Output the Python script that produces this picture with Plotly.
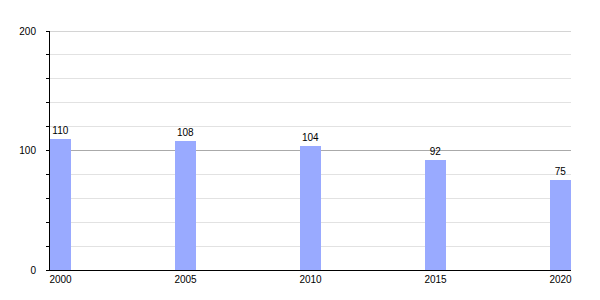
import plotly.graph_objects as go

years = ["2000", "2005", "2010", "2015", "2020"]
values = [110, 108, 104, 92, 75]
major_ticks = [0, 100, 200]
minor_ticks = [20, 40, 60, 80, 120, 140, 160, 180]

fig = go.Figure()
fig.add_trace(go.Bar(
    x=list(range(len(years))), y=values, width=0.168,
    marker=dict(color="#99aaff", line=dict(width=0)),
    text=[str(v) for v in values], textposition="outside",
    textfont=dict(size=10, color="#000", family="Liberation Sans"),
    cliponaxis=False,
))
fig.update_layout(
    width=600, height=300,
    margin=dict(l=50, r=29, t=31, b=30),
    paper_bgcolor="white", plot_bgcolor="white",
    showlegend=False,
    font=dict(family="Liberation Sans", size=10, color="#000"),
    bargap=0,
)
fig.update_xaxes(
    range=[-0.084, 4.084], tickmode="array", tickvals=list(range(len(years))),
    ticktext=years, showgrid=False, showline=True, linecolor="#000", linewidth=1,
    ticks="", zeroline=False, tickfont=dict(size=10),
)
fig.update_yaxes(
    range=[0, 200], tickmode="array", tickvals=major_ticks, showline=True, linecolor="#000", linewidth=1,
    ticks="outside", ticklen=3, tickcolor="#000", gridcolor="#aaaaaa", gridwidth=1,
    zeroline=False, tickfont=dict(size=10), ticklabelstandoff=8,
    minor=dict(tickmode="array", tickvals=minor_ticks, showgrid=True, gridcolor="#e2e2e2",
               ticks="outside", ticklen=3, tickcolor="#000"),
)
# top major gridline (plotly culls gridlines at the plot edge)
fig.add_hline(y=major_ticks[-1], line=dict(color="#aaaaaa", width=1), layer="below")
fig.write_html("out.html")
